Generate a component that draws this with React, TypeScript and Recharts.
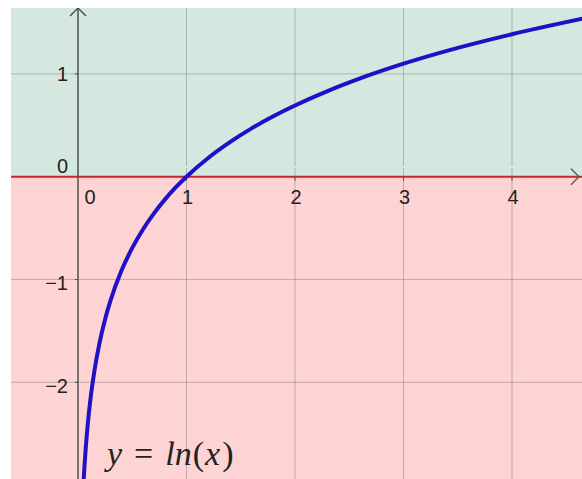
import React from "react";
import {
  ComposedChart,
  Line,
  XAxis,
  YAxis,
  ReferenceArea,
  ReferenceLine,
  ReferenceDot,
} from "recharts";

// Visible window of the graph (data units)
const X_MIN = -0.6175;
const X_MAX = 4.645;
const Y_MIN = -2.941;
const Y_MAX = 1.641;

// Curve y = ln(x)
const curveX = [0.045, 0.053, 0.06, 0.07, 0.08, 0.1, 0.12, 0.15, 0.2, 0.25, 0.3, 0.4, 0.5, 0.6, 0.7, 0.8, 0.9, 1, 1.2, 1.4, 1.6, 1.8, 2, 2.3, 2.6, 3, 3.5, 4, 4.65];
const curveY = [-3.101, -2.937, -2.813, -2.659, -2.526, -2.303, -2.12, -1.897, -1.609, -1.386, -1.204, -0.916, -0.693, -0.511, -0.357, -0.223, -0.105, 0, 0.182, 0.336, 0.47, 0.588, 0.693, 0.833, 0.956, 1.099, 1.253, 1.386, 1.537];

// Grid and tick labels
const xGrid = [1, 2, 3, 4];
const yGrid = [1, -1, -2];
const xTickLabels = ["0", "1", "2", "3", "4"];
const xTickValues = [0, 1, 2, 3, 4];
const yTickLabels = ["1", "0", "\u22121", "\u22122"];
const yTickValues = [1, 0, -1, -2];

const data = curveX.map((x, i) => ({ x, y: curveY[i] }));

const GREEN = "#d5e8df";
const PINK = "#fdd3d4";
const GRID = "rgba(70,70,70,0.3)";
const LABEL_FONT = "'Liberation Sans', Arial, sans-serif";

const makeText =
  (text: string, dx: number, dy: number, anchor: "start" | "middle" | "end") =>
  (props: any) =>
    (
      <text
        x={props.cx + dx}
        y={props.cy + dy}
        textAnchor={anchor}
        fontFamily={LABEL_FONT}
        fontSize={20}
        fill="#222"
      >
        {text}
      </text>
    );

const UpArrow = (props: any) => (
  <path
    d={`M ${props.cx - 8} ${props.cy + 8} L ${props.cx} ${props.cy} L ${props.cx + 8} ${props.cy + 8}`}
    fill="none"
    stroke="#444"
    strokeWidth={1.3}
  />
);

const RightArrow = (props: any) => (
  <path
    d={`M ${props.cx - 11} ${props.cy - 8} L ${props.cx - 3} ${props.cy} L ${props.cx - 11} ${props.cy + 8}`}
    fill="none"
    stroke="#555"
    strokeWidth={1.3}
  />
);

const FormulaLabel = (props: any) => (
  <text
    x={props.cx}
    y={props.cy}
    fontFamily="'Liberation Serif', 'Times New Roman', serif"
    fontSize={34}
    fill="#222"
  >
    <tspan fontStyle="italic">y</tspan>
    <tspan dx={12}>=</tspan>
    <tspan dx={12} fontStyle="italic">ln</tspan>
    <tspan dx={1}>(</tspan>
    <tspan dx={1} fontStyle="italic">x</tspan>
    <tspan dx={2}>)</tspan>
  </text>
);

export default function App() {
  return (
    <div
      style={{
        position: "fixed",
        left: 0,
        top: 0,
        width: 582,
        height: 479,
        background: "#fff",
        overflow: "hidden",
      }}
    >
      <div style={{ position: "absolute", left: 11, top: 8 }}>
        <ComposedChart
          width={571}
          height={471}
          data={data}
          margin={{ top: 0, right: 0, bottom: 0, left: 0 }}
        >
          <XAxis
            type="number"
            dataKey="x"
            domain={[X_MIN, X_MAX]}
            allowDataOverflow
            hide
          />
          <YAxis
            type="number"
            domain={[Y_MIN, Y_MAX]}
            allowDataOverflow
            hide
          />
          <ReferenceArea y1={0} y2={Y_MAX} fill={GREEN} fillOpacity={1} stroke="none" />
          <ReferenceArea y1={Y_MIN} y2={0} fill={PINK} fillOpacity={1} stroke="none" />
          {xGrid.map((v) => (
            <ReferenceLine key={`gx${v}`} x={v} stroke={GRID} strokeWidth={1} />
          ))}
          {yGrid.map((v) => (
            <ReferenceLine key={`gy${v}`} y={v} stroke={GRID} strokeWidth={1} />
          ))}
          <ReferenceLine y={0.094} stroke="#cbeee9" strokeWidth={2} />
          <ReferenceLine x={0} stroke="#454545" strokeWidth={1.4} />
          <ReferenceLine y={0} stroke="#c4282a" strokeWidth={2} />
          {xGrid.map((v) => (
            <ReferenceLine
              key={`tx${v}`}
              segment={[{ x: v, y: 0 }, { x: v, y: -0.04 }]}
              stroke="#555"
              strokeWidth={1}
            />
          ))}
          {yGrid.map((v) => (
            <ReferenceLine
              key={`ty${v}`}
              segment={[{ x: -0.03, y: v }, { x: 0, y: v }]}
              stroke="#555"
              strokeWidth={1}
            />
          ))}
          <Line
            type="monotone"
            dataKey="y"
            stroke="#2010c8"
            strokeWidth={4}
            dot={false}
            isAnimationActive={false}
          />
          {xTickValues.map((v, i) => (
            <ReferenceDot
              key={`lx${v}`}
              x={v}
              y={0}
              r={0}
              shape={makeText(xTickLabels[i], v === 0 ? 12 : 1, 27, "middle")}
            />
          ))}
          {yTickValues.map((v, i) => (
            <ReferenceDot
              key={`ly${v}`}
              x={0}
              y={v}
              r={0}
              shape={makeText(yTickLabels[i], -10, v === 0 ? -4 : v > 0 ? 7 : 11, "end")}
            />
          ))}
          <ReferenceDot x={0} y={Y_MAX} r={0} shape={UpArrow} />
          <ReferenceDot x={X_MAX} y={0} r={0} shape={RightArrow} />
          <ReferenceDot x={0.267} y={-2.8} r={0} shape={FormulaLabel} />
        </ComposedChart>
      </div>
    </div>
  );
}
